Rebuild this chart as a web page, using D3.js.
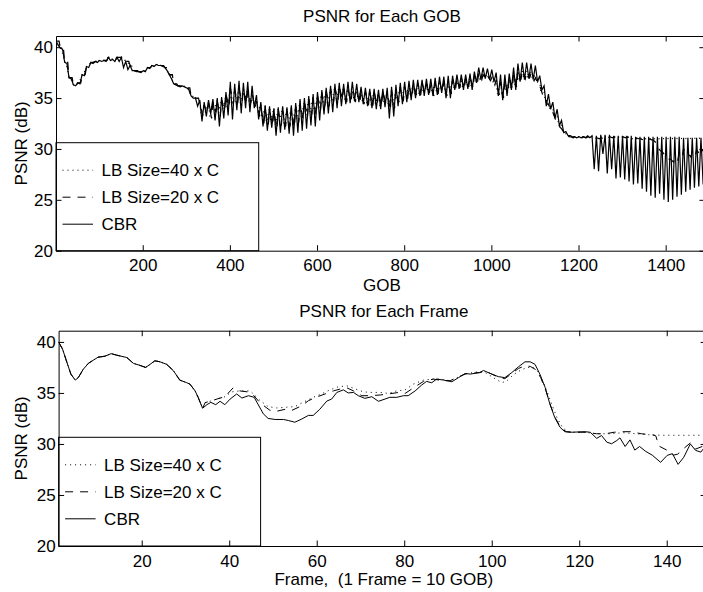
<!DOCTYPE html>
<html><head><meta charset="utf-8">
<script src="https://cdn.jsdelivr.net/npm/d3@7"></script>
<style>
body{margin:0;background:#fff}
svg{display:block}
text{font-family:"Liberation Sans",Arial,Helvetica,sans-serif;fill:#000}
</style>
</head><body>
<svg id="chart" width="703" height="592"></svg>
<script>
// ---------- DATA ----------
// Top panel: PSNR per GOB, read per frame (10 GOBs): level and dip of each frame
const gobTopCBR = [
 40.6,39.9,38.5,37.0,36.3,36.5,37.3,38.1,38.5,38.6,
 38.7,38.7,39.0,38.8,39.0,39.0,38.6,38.2,37.7,37.6,
 37.7,38.0,38.2,38.3,38.2,38.0,37.3,36.4,36.2,36.2,
 36.0,35.2,35.0,34.8,34.6,34.8,34.9,35.0,35.1,35.6,
 36.6,36.4,36.7,36.5,36.6,36.2,35.3,34.6,34.3,34.2,
 34.0,34.1,34.2,34.1,34.3,34.5,34.9,35.0,35.2,35.4,
 35.6,35.8,36.0,36.2,36.4,36.5,36.4,36.6,36.6,36.4,
 36.1,36.0,35.9,35.9,35.8,35.9,36.0,36.1,36.3,36.5,
 36.6,36.7,36.8,36.8,36.8,36.9,36.9,37.0,37.1,37.1,
 37.2,37.2,37.3,37.3,37.3,37.4,37.6,38.0,38.0,37.9,
 37.8,37.5,37.3,37.3,37.4,38.0,38.4,38.5,38.5,38.4,
 38.2,37.2,36.2,35.4,34.6,33.9,32.8,31.7,31.3,31.2,
 31.2,31.2,31.3,31.3,31.3,31.4,31.4,31.4,31.3,31.3,
 31.3,31.3,31.3,31.2,31.2,31.2,31.2,31.2,31.2,31.2,
 31.2,31.2,31.2,31.2,31.1,31.1,31.1,31.1,31.1
];
const gobDipCBR = [
 40.2,39.8,38.4,36.9,36.2,36.4,37.2,38.0,38.4,38.5,
 38.6,38.6,38.7,38.6,38.6,38.0,37.8,37.7,37.6,37.5,
 37.6,37.9,38.1,38.2,38.1,37.7,36.9,36.3,36.1,36.1,
 35.8,35.0,34.2,32.7,33.2,33.5,32.8,32.2,33.0,33.3,
 32.9,33.8,33.5,34.0,33.6,34.0,32.9,32.2,31.8,32.1,
 31.3,31.6,31.9,31.5,31.3,31.6,31.8,32.0,32.3,32.2,
 32.8,33.4,33.5,33.6,34.0,34.2,34.4,34.5,34.7,34.6,
 34.4,34.2,34.0,33.9,33.9,34.1,33.0,33.2,34.2,34.4,
 34.6,34.8,35.0,35.2,35.2,35.3,35.2,35.3,35.5,35.0,
 35.0,35.8,35.9,35.8,35.9,35.8,36.5,36.8,36.9,36.8,
 36.6,35.2,34.8,35.2,35.8,35.8,36.6,36.8,36.9,36.8,
 36.6,35.8,34.2,33.9,33.0,32.3,31.6,31.3,31.2,31.1,
 31.1,31.1,31.1,28.0,27.8,29.5,27.6,28.0,27.1,27.2,
 27.0,26.8,26.5,26.6,26.1,25.8,25.4,25.2,25.6,25.0,
 24.8,25.0,25.3,25.5,25.8,26.0,26.2,26.3,26.5
];
const gobTopLB40 = [
 40.6,39.9,38.5,37.0,36.3,36.5,37.3,38.1,38.5,38.6,
 38.7,38.7,39.0,38.8,39.0,39.0,38.6,38.2,37.7,37.6,
 37.7,38.0,38.2,38.3,38.2,38.0,37.3,36.4,36.2,36.2,
 36.0,35.2,35.0,34.5,34.4,34.6,34.7,34.8,34.9,35.3,
 35.9,35.8,36.0,35.9,35.9,35.6,35.0,34.4,34.2,34.1,
 34.0,34.0,34.1,34.0,34.2,34.4,34.7,34.8,35.0,35.2,
 35.4,35.6,35.8,36.0,36.1,36.2,36.1,36.2,36.2,36.0,
 35.8,35.7,35.6,35.6,35.5,35.6,35.6,35.7,35.9,36.1,
 36.2,36.3,36.4,36.4,36.4,36.5,36.5,36.6,36.7,36.6,
 36.7,36.8,36.9,36.9,36.9,37.0,37.2,37.5,37.5,37.4,
 37.2,36.5,36.4,36.6,36.9,37.3,37.6,37.7,37.7,37.5,
 37.3,36.5,35.6,34.8,34.0,33.2,32.3,31.5,31.2,31.2,
 31.2,31.2,31.2,31.2,31.2,31.2,31.2,31.2,31.2,31.2,
 31.2,31.2,31.1,31.1,31.1,31.1,31.1,31.1,31.1,31.1,
 31.1,31.1,31.1,31.1,31.1,31.1,31.1,31.1,31.1
];
const gobDipLB40 = [
 40.6,39.9,38.5,37.0,36.3,36.5,37.3,38.1,38.5,38.6,
 38.7,38.7,39.0,38.8,39.0,39.0,38.6,38.2,37.7,37.6,
 37.7,38.0,38.2,38.3,38.2,38.0,37.3,36.4,36.2,36.2,
 36.0,35.2,35.0,33.4,33.6,33.2,33.8,33.5,33.9,34.0,
 34.3,34.6,34.5,34.8,34.6,34.4,33.6,33.0,32.6,32.8,
 32.4,32.7,32.5,32.6,32.4,32.9,33.1,33.3,33.6,33.5,
 34.0,34.4,34.3,34.7,34.9,35.0,34.8,35.1,35.0,34.8,
 34.6,34.5,34.3,34.4,34.2,34.5,34.1,34.3,34.8,34.9,
 35.1,35.2,35.4,35.3,35.5,35.6,35.4,35.6,35.7,35.4,
 35.6,36.0,36.1,36.0,36.2,36.1,36.6,36.9,37.0,36.8,
 36.5,35.4,35.2,35.6,36.0,36.3,36.9,37.0,37.1,36.9,
 36.6,35.6,34.7,34.0,33.2,32.5,31.8,31.3,31.1,31.1,
 31.1,31.1,31.1,31.1,31.1,31.1,31.1,31.1,31.1,31.1,
 31.1,31.1,31.0,31.0,31.0,31.0,31.0,31.0,31.0,31.0,
 31.0,31.0,31.0,31.0,31.0,31.0,31.0,31.0,31.0
];
const gobTopLB20 = [
 40.6,39.9,38.5,37.0,36.3,36.5,37.3,38.1,38.5,38.6,
 38.7,38.7,39.0,38.8,39.0,39.0,38.6,38.2,37.7,37.6,
 37.7,38.0,38.2,38.3,38.2,38.0,37.3,36.4,36.2,36.2,
 36.0,35.2,35.0,34.4,34.3,34.5,34.6,34.7,34.8,35.4,
 36.0,35.8,35.9,35.8,35.7,35.4,34.7,34.0,33.8,33.7,
 33.7,33.8,33.8,33.7,33.9,34.2,34.5,34.7,34.9,35.1,
 35.3,35.5,35.7,35.9,36.0,36.1,35.9,35.8,35.7,35.6,
 35.6,35.6,35.6,35.6,35.6,35.7,35.7,35.8,35.8,35.9,
 36.1,36.2,36.4,36.5,36.5,36.4,36.4,36.5,36.6,36.7,
 36.7,36.8,36.9,37.0,37.0,37.1,37.2,37.4,37.3,37.2,
 37.0,36.8,36.6,36.8,37.1,37.4,37.6,37.7,37.6,37.4,
 37.0,36.2,35.2,34.4,33.6,32.8,32.0,31.4,31.2,31.2,
 31.2,31.2,31.2,31.1,31.1,31.1,31.2,31.2,31.2,31.2,
 31.2,31.2,31.1,31.1,31.0,31.0,31.0,30.9,30.2,29.8,
 29.4,29.0,29.2,29.6,30.0,29.6,29.8,29.9,30.0
];
const gobDipLB20 = [
 40.6,39.9,38.5,37.0,36.3,36.5,37.3,38.1,38.5,38.6,
 38.7,38.7,39.0,38.8,39.0,39.0,38.6,38.2,37.7,37.6,
 37.7,38.0,38.2,38.3,38.2,38.0,37.3,36.4,36.2,36.2,
 36.0,35.2,35.0,33.3,33.5,33.0,33.6,33.2,33.8,34.1,
 34.4,34.5,34.6,34.5,34.5,34.0,33.2,32.5,32.3,32.4,
 32.0,32.3,32.2,32.2,32.1,32.6,32.9,33.1,33.4,33.3,
 33.8,34.2,34.2,34.6,34.8,34.9,34.6,34.7,34.6,34.5,
 34.4,34.3,34.2,34.3,34.2,34.4,33.8,34.0,34.6,34.7,
 34.9,35.0,35.3,35.3,35.4,35.5,35.2,35.4,35.6,35.2,
 35.4,35.9,36.0,35.9,36.1,36.0,36.5,36.8,36.9,36.7,
 36.3,35.3,35.0,35.4,35.9,36.1,36.8,36.9,37.0,36.7,
 36.3,35.3,34.4,33.6,32.8,32.1,31.5,31.2,31.1,31.1,
 31.1,31.1,31.1,31.0,31.0,31.0,31.1,31.1,31.1,31.1,
 31.1,31.1,31.0,31.0,30.9,30.9,30.9,30.6,29.8,29.4,
 29.0,28.7,28.9,29.2,29.6,29.2,29.4,29.5,29.7
];

// Bottom panel: PSNR per frame (frame, value)
const frameCBR = [1,1.9,2.9,3.8,4.8,5.5,6.6,7.8,8.9,10,11.6,13,14.3,16.6,18.1,19.6,20.9,21.9,23,24.2,25.7,27.2,28.7,30.3,31,32.2,32.9,33.9,34.9,35.8,36.9,37.9,39,40.2,41.7,42.9,44.4,45.7,47.8,48.9,50.5,52.4,53.5,55,56.6,58.1,59.2,60.7,62.3,63.4,64.6,66.1,67.2,68.4,69.5,71,72.6,74.1,75.6,76.7,78.3,79.8,80.9,82.5,84,85.1,86.3,87.4,89,90.9,92.4,93.9,95.1,97.3,98.1,100,101.5,103,104.6,106.1,107.6,108.8,109.9,111,112.2,113.3,114.4,115.6,116.7,118.3,121.3,122.5,124,125.1,126.3,127.4,128.6,129.3,130.5,131.6,132.7,133.8,135.1,136.7,138.6,140.1,141.3,142.6,143.9,145.4,146.6,147.8,149];
const psnrCBR = [40.0,39.3,38.0,36.85,36.26,36.5,37.3,37.9,38.2,38.5,38.6,38.85,38.7,38.47,37.9,37.7,37.5,37.8,38.15,38.05,37.8,37.2,36.26,36.0,35.87,35.2,34.57,33.5,33.85,34.08,33.85,34.18,33.85,34.4,34.9,34.5,34.73,34.57,32.95,32.5,32.4,32.4,32.3,32.13,32.45,32.8,32.8,33.4,34.2,34.4,35.05,35.3,35.0,35.05,34.73,34.47,34.63,34.18,34.4,34.57,34.57,34.73,34.73,35.2,35.78,36.13,36.0,36.36,36.26,36.1,36.5,36.9,36.85,37.0,37.2,36.85,36.6,36.5,37.0,37.56,38.05,38.05,37.8,36.85,35.55,33.9,32.6,31.64,31.2,31.15,31.2,31.15,30.55,30.83,30.18,30.02,30.34,30.6,29.75,30.4,29.4,29.75,29.3,28.9,28.2,28.88,29.05,28.0,28.7,30.0,29.37,29.2,29.9];

const frameLB20 = [1,1.9,2.9,3.8,4.8,5.5,6.6,7.8,8.9,10,11.6,13,14.3,16.6,18.1,19.6,20.9,21.9,23,24.2,25.7,27.2,28.7,30.3,31,32.2,32.9,33.9,34.5,36,37.7,39,40.9,42.4,44.3,45.5,47.1,49.3,50.8,52.8,54.2,56.6,58.1,60,61.9,63.8,65.3,66.9,68.4,70.3,72.2,74.5,76.4,78.7,80.2,82.1,84.4,86.7,88.6,90.5,92.8,94.3,97.3,98.5,100,101.5,103,104.6,106.1,107.6,108.8,110,111.2,112.4,113.5,114.6,115.8,117,118.3,121.3,124,126,128,130,131.9,134.2,136.7,137.5,138.2,140,141.5,142.5,144,145.4,146.6,149];
const psnrLB20 = [40.0,39.3,38.0,36.85,36.26,36.5,37.3,37.9,38.2,38.5,38.6,38.85,38.7,38.47,37.9,37.7,37.5,37.8,38.15,38.05,37.8,37.2,36.26,36.0,35.87,35.2,34.57,33.5,34.05,34.24,34.47,34.63,35.5,35.2,35.1,34.8,34.0,33.3,33.2,33.4,33.27,33.75,34.24,34.6,34.9,35.2,35.37,35.5,35.2,34.73,34.73,34.8,34.9,35.05,34.95,35.5,36.13,36.36,36.2,36.2,36.65,36.9,37.0,37.15,36.85,36.55,36.4,36.9,37.4,37.66,37.6,37.3,36.5,35.2,33.7,32.5,31.6,31.2,31.15,31.15,31.0,31.0,31.15,31.2,31.2,31.0,30.9,30.8,29.8,29.4,28.9,29.0,29.6,30.1,29.5,29.9];

const frameLB40 = [1,1.9,2.9,3.8,4.8,5.5,6.6,7.8,8.9,10,11.6,13,14.3,16.6,18.1,19.6,20.9,21.9,23,24.2,25.7,27.2,28.7,30.3,31,32.2,32.9,33.9,34.5,36,37.7,39,40.5,42.4,44.8,47.1,48.9,50.8,53.1,55,56.9,59.2,61.1,63,64.9,66.9,68.8,70.7,72.6,74.5,76.4,78.3,80.2,82.1,84.4,86.3,88.2,90.5,92.4,94.3,97.3,98.5,100,102.3,103.5,105,106.5,108,109.5,110.5,111.8,112.6,113.8,115,116.2,117.4,118.3,121,124,127,130,133,136,139,142,145,149];
const psnrLB40 = [40.0,39.3,38.0,36.85,36.26,36.5,37.3,37.9,38.2,38.5,38.6,38.85,38.7,38.47,37.9,37.7,37.5,37.8,38.15,38.05,37.8,37.2,36.26,36.0,35.87,35.2,34.57,33.5,34.05,34.24,34.47,34.63,35.1,35.2,35.2,34.24,33.66,33.53,33.6,33.66,34.08,34.57,34.9,35.3,35.6,35.7,35.4,35.1,35.05,35.05,34.95,35.2,35.3,35.87,36.26,36.36,36.36,36.2,36.56,36.9,37.1,37.0,36.6,36.0,36.2,36.8,37.2,37.5,37.5,37.1,36.0,35.2,33.8,32.5,31.6,31.2,31.15,31.15,31.0,31.0,31.1,31.0,30.9,30.85,30.85,30.85,30.85];

const yTickValues = [20,25,30,35,40];
const xTicksGOB = [200,400,600,800,1000,1200,1400];
const xTicksFrame = [20,40,60,80,100,120,140];
const legendLabels = ["LB Size=40 x C","LB Size=20 x C","CBR"];
const legendDash = ["1,4","8,7",null];
const titles = ["PSNR for Each GOB","PSNR for Each Frame"];
const xLabels = ["GOB","Frame,  (1 Frame = 10 GOB)"];
const yLabel = "PSNR (dB)";

// ---------- DRAW ----------
const svg = d3.select("#chart");
const FS = 17;

// per frame: level at the frame's first GOB, dip at the GOB where it was read
function gobPoints(level, dip, dipGob){
  const pts = [];
  level.forEach((v,i)=>{
    const g0 = i*10+1;
    pts.push([g0, v]);
    pts.push([g0+dipGob, dip[i]]);
  });
  pts.push([level.length*10, level[level.length-1]]);
  return pts;
}
function zipPts(xs, ys){ return xs.map((x,i)=>[x, ys[i]]); }

const panels = [
  {left:56, right:704.9, top:36, bottom:250.7, xdom:[1,1490], xticks:xTicksGOB, sw:1.2,
   series:[
     {pts:gobPoints(gobTopLB40, gobDipLB40, 3), dash:"1,4"},
     {pts:gobPoints(gobTopLB20, gobDipLB20, 7), dash:"8,7"},
     {pts:gobPoints(gobTopCBR, gobDipCBR, 5), dash:null}
   ], title:titles[0], xlabel:xLabels[0], titleY:21.5, xlabY:291, legW:202.7, legH:108},
  {left:58.6, right:706.1, top:330.7, bottom:546, xdom:[1,149], xticks:xTicksFrame, sw:1,
   series:[
     {pts:zipPts(frameLB40, psnrLB40), dash:"1,4"},
     {pts:zipPts(frameLB20, psnrLB20), dash:"8,7"},
     {pts:zipPts(frameCBR, psnrCBR), dash:null}
   ], title:titles[1], xlabel:xLabels[1], titleY:316.7, xlabY:585, legW:202, legH:108.7}
];

panels.forEach((p, pi) => {
  const x = d3.scaleLinear().domain(p.xdom).range([p.left, p.right]);
  const y = d3.scaleLinear().domain([20, 41.1]).range([p.bottom, p.top]);
  const g = svg.append("g");
  const clipId = "clip"+pi;
  svg.append("clipPath").attr("id", clipId).append("rect")
    .attr("x", p.left).attr("y", p.top).attr("width", p.right-p.left).attr("height", p.bottom-p.top);

  // series
  const plot = g.append("g").attr("clip-path", `url(#${clipId})`);
  p.series.forEach(s => {
    const line = d3.line().x(d=>x(d[0])).y(d=>y(d[1]));
    plot.append("path").datum(s.pts)
      .attr("d", line).attr("fill","none").attr("stroke","#000")
      .attr("stroke-width", p.sw)
      .attr("stroke-dasharray", s.dash);
  });

  // legend
  const lg = g.append("g").attr("transform", `translate(${p.left},${p.bottom - p.legH})`);
  lg.append("rect").attr("x",0).attr("y",0).attr("width",p.legW).attr("height",p.legH)
    .attr("fill","#fff").attr("stroke","#000").attr("stroke-width",1);
  legendLabels.forEach((lab,i)=>{
    const ly = 27.5 + i*27;
    lg.append("line").attr("x1",6.5).attr("x2",37).attr("y1",ly).attr("y2",ly)
      .attr("stroke","#000").attr("stroke-width",1).attr("stroke-dasharray", legendDash[i]);
    lg.append("text").attr("x",45.5).attr("y",ly+6).attr("font-size",FS).text(lab);
  });

  // axes (ticks inside, MATLAB style)
  const axB = d3.axisBottom(x).tickValues(p.xticks).tickSizeInner(-5.5).tickSizeOuter(0).tickPadding(8.5).tickFormat(d3.format("d"));
  const axT = d3.axisTop(x).tickValues(p.xticks).tickSizeInner(-5.5).tickSizeOuter(0).tickFormat("");
  const axL = d3.axisLeft(y).tickValues(yTickValues).tickSizeInner(-5.5).tickSizeOuter(0).tickPadding(3);
  const axR = d3.axisRight(y).tickValues(yTickValues).tickSizeInner(-5.5).tickSizeOuter(0).tickFormat("");
  [[axB,`translate(0,${p.bottom})`],[axT,`translate(0,${p.top})`],[axL,`translate(${p.left},0)`],[axR,`translate(${p.right},0)`]]
    .forEach(([ax,tr])=>{
      const a = g.append("g").attr("transform",tr).call(ax);
      a.selectAll("path,line").attr("stroke","#000").attr("stroke-width",1);
      a.selectAll("text").attr("font-size",FS).attr("font-family",null).attr("fill","#000");
    });

  // titles & labels
  const cx = (p.left + p.right)/2 + 1.5;
  g.append("text").attr("x",cx).attr("y",p.titleY).attr("text-anchor","middle").attr("font-size",FS).text(p.title);
  g.append("text").attr("x",cx).attr("y",p.xlabY).attr("text-anchor","middle").attr("font-size",FS)
    .style("white-space","pre").text(p.xlabel);
  g.append("text").attr("transform",`translate(26.5,${(p.top+p.bottom)/2}) rotate(-90)`)
    .attr("text-anchor","middle").attr("font-size",FS).text(yLabel);
});
</script>
</body></html>
